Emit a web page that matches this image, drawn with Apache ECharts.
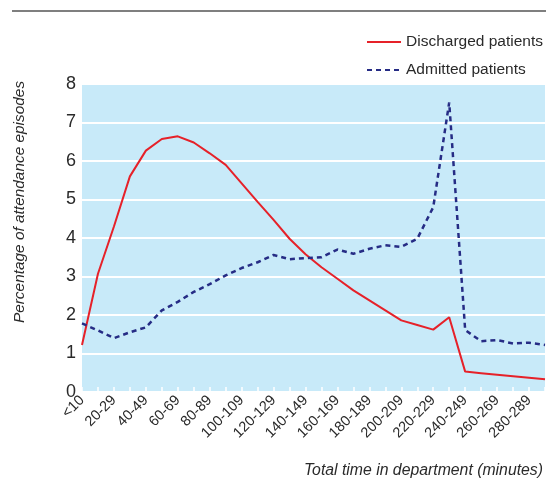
<!DOCTYPE html>
<html>
<head>
<meta charset="utf-8">
<script src="https://cdn.jsdelivr.net/npm/echarts@6/dist/echarts.min.js"></script>
<style>
  html, body { margin: 0; padding: 0; background: #fff; }
  #chart { width: 546px; height: 484px; }
</style>
</head>
<body>
<div id="chart"></div>
<script>
// time bands (minutes), last one has no label in the figure
var categories = ['<10', '10-19', '20-29', '30-39', '40-49', '50-59', '60-69', '70-79', '80-89', '90-99',
  '100-109', '110-119', '120-129', '130-139', '140-149', '150-159', '160-169', '170-179', '180-189', '190-199',
  '200-209', '210-219', '220-229', '230-239', '240-249', '250-259', '260-269', '270-279', '280-289', '290-299'];

// percentage of attendance episodes
var discharged = [1.22, 3.07, 4.3, 5.6, 6.27, 6.57, 6.64, 6.48, 6.2, 5.9,
  5.42, 4.94, 4.47, 3.98, 3.58, 3.24, 2.94, 2.64, 2.38, 2.12,
  1.86, 1.74, 1.62, 1.94, 0.53, 0.49, 0.45, 0.41, 0.37, 0.33];
var admitted = [1.78, 1.6, 1.4, 1.55, 1.68, 2.12, 2.34, 2.6, 2.8, 3.03,
  3.22, 3.37, 3.56, 3.45, 3.48, 3.5, 3.7, 3.59, 3.72, 3.81,
  3.77, 3.98, 4.8, 7.52, 1.61, 1.32, 1.35, 1.26, 1.28, 1.22];

var yTicks = { min: 0, max: 8, step: 1 };

var font = "'Liberation Sans', Arial, sans-serif";
var txt = '#2a2a2a';

var chart = echarts.init(document.getElementById('chart'));

var option = {
  animation: false,
  textStyle: { fontFamily: font, color: txt },
  title: {
    text: 'Total time in department (minutes)',
    right: 3,
    top: 463,
    padding: 0,
    textStyle: { fontFamily: font, fontSize: 15.8, fontStyle: 'italic', fontWeight: 'normal', color: txt }
  },
  legend: {
    orient: 'vertical',
    right: 3,
    top: 32,
    itemWidth: 34,
    itemHeight: 14,
    itemGap: 8,
    padding: 0,
    itemStyle: { opacity: 0 },
    textStyle: { fontFamily: font, fontSize: 15.5, color: txt, lineHeight: 20 },
    data: ['Discharged patients', 'Admitted patients']
  },
  graphic: [{
    type: 'line',
    shape: { x1: 12, y1: 11, x2: 546, y2: 11 },
    style: { stroke: '#555', lineWidth: 1.5 }
  }],
  grid: {
    left: 82,
    right: 1,
    top: 84,
    bottom: 92,
    show: true,
    backgroundColor: '#c8eaf9',
    borderWidth: 0
  },
  xAxis: {
    type: 'category',
    data: categories,
    boundaryGap: false,
    axisLine: { show: false },
    axisTick: { show: true, inside: true, length: 5, interval: 0, lineStyle: { color: '#fff', width: 1.5 } },
    axisLabel: { interval: 1, rotate: 45, margin: 6, fontSize: 14.5, color: txt, fontFamily: font },
    splitLine: { show: false }
  },
  yAxis: {
    type: 'value',
    min: yTicks.min,
    max: yTicks.max,
    interval: yTicks.step,
    name: 'Percentage of attendance episodes',
    nameLocation: 'middle',
    nameGap: 55,
    nameTextStyle: { fontFamily: font, fontSize: 15.4, fontStyle: 'italic', color: txt, padding: [0, 0, 0, 72] },
    axisLine: { show: false },
    axisTick: { show: false },
    axisLabel: { margin: 6, fontSize: 18, color: txt, fontFamily: font, padding: [5, 0, 0, 0] },
    splitLine: { show: true, lineStyle: { color: '#fff', width: 2 } }
  },
  series: [{
    name: 'Discharged patients',
    type: 'line',
    data: discharged,
    symbol: 'none',
    lineStyle: { color: '#e62129', width: 2 },
    itemStyle: { color: '#e62129' }
  }, {
    name: 'Admitted patients',
    type: 'line',
    data: admitted,
    symbol: 'none',
    lineStyle: { color: '#262c85', width: 2.5, type: [5, 4] },
    itemStyle: { color: '#262c85' }
  }]
};

chart.setOption(option);
</script>
</body>
</html>
